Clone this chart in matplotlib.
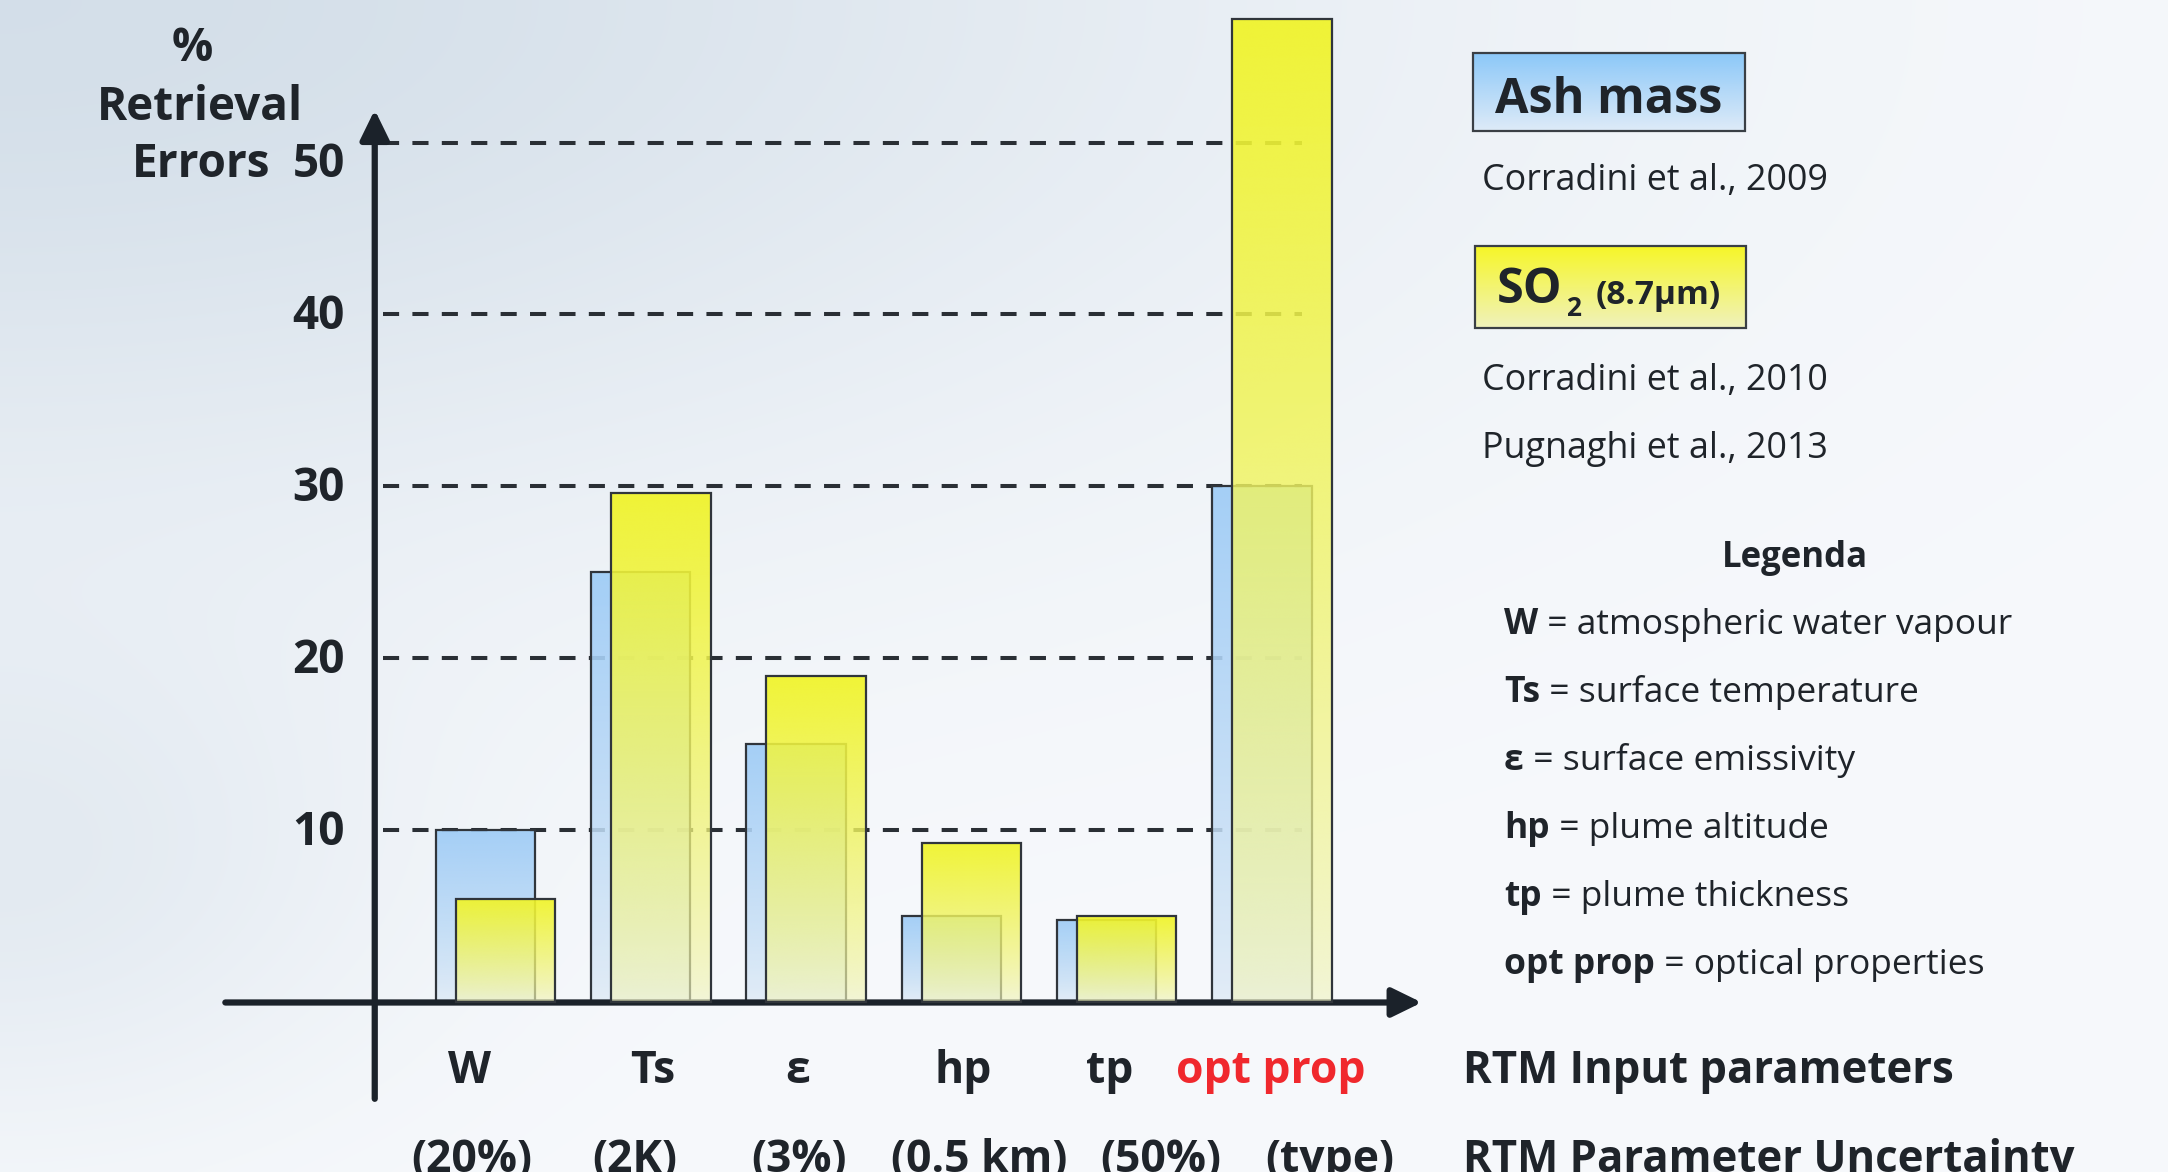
import numpy as np
import matplotlib
matplotlib.use('Agg')
import matplotlib.pyplot as plt
from matplotlib.patches import Rectangle

# ---------------- data ----------------
categories = ['W', 'Ts', 'ε', 'hp', 'tp', 'opt prop']
uncertainty = ['(20%)', '(2K)', '(3%)', '(0.5 km)', '(50%)', '(type)']
ash_mass = [10, 25, 15, 5, 4.8, 30]
so2 = [6, 29.6, 19, 9.3, 5, 57.2]
yticks = [10, 20, 30, 40, 50]
legend_keys = ['W', 'Ts', 'ε', 'hp', 'tp', 'opt prop']
legend_desc = ['atmospheric water vapour', 'surface temperature', 'surface emissivity',
               'plume altitude', 'plume thickness', 'optical properties']
refs_ash = ['Corradini et al., 2009']
refs_so2 = ['Corradini et al., 2010', 'Pugnaghi et al., 2013']

plt.rcParams['font.family'] = ['Open Sans', 'DejaVu Sans']
TXT = '#1f242a'
RED = '#f0282d'

W, H = 2168, 1172
fig = plt.figure(figsize=(W / 100, H / 100), dpi=100)

# ---------------- background axes (pixel coordinates) ----------------
bg = fig.add_axes([0, 0, 1, 1])
yy, xx = np.mgrid[0:1:300j, 0:1:560j]
d = 0.9 * np.exp(-((xx / 0.6) ** 2 + (yy / 0.45) ** 2)) \
    + 0.45 * np.exp(-(xx / 0.18) ** 2) * np.exp(-((yy - 0.75) / 0.22) ** 2)
d = np.clip(d, 0, 1)[..., None]
dark = np.array([208, 220, 231]) / 255
light = np.array([247, 249, 252]) / 255
bgimg = light * (1 - d) + dark * d
bg.imshow(bgimg, extent=(0, W, H, 0), origin='upper', aspect='auto',
          interpolation='bicubic', zorder=0)


def box(x0, y0, x1, y1, top, bottom):
    n = 128
    t = np.linspace(0, 1, n)[:, None]
    rgb = (np.array(top) + (np.array(bottom) - np.array(top)) * t) / 255
    bg.imshow(rgb.reshape(n, 1, 3), extent=(x0, x1, y1, y0), origin='upper',
              aspect='auto', interpolation='bicubic', zorder=1)
    bg.add_patch(Rectangle((x0, y0), x1 - x0, y1 - y0, fill=False,
                           edgecolor='#3a3f45', lw=1.6, zorder=2))


box(1473, 53, 1745, 131, (140, 200, 248), (222, 235, 248))
box(1475, 246, 1746, 328, (246, 246, 40), (240, 242, 188))
bg.text(1609, 113, 'Ash mass', ha='center', va='baseline', fontsize=35,
        weight='bold', color=TXT, zorder=3)
bg.text(1497, 303, 'SO', ha='left', va='baseline', fontsize=35,
        weight='bold', color=TXT, zorder=3)
bg.text(1566, 316, '2', ha='left', va='baseline', fontsize=19,
        weight='bold', color=TXT, zorder=3)
bg.text(1596, 304, '(8.7μm)', ha='left', va='baseline', fontsize=24,
        weight='bold', color=TXT, zorder=3)

bg.text(1482, 190, refs_ash[0], ha='left', va='baseline', fontsize=25.8, color=TXT)
for k, s in enumerate(refs_so2):
    bg.text(1482, 390 + 68 * k, s, ha='left', va='baseline', fontsize=25.8, color=TXT)

bg.text(1795, 567, 'Legenda', ha='center', va='baseline', fontsize=25,
        weight='bold', color=TXT)
renderer = fig.canvas.get_renderer()
for k, (key, desc) in enumerate(zip(legend_keys, legend_desc)):
    yb = 634 + 68 * k
    t1 = bg.text(1504, yb, key, ha='left', va='baseline', fontsize=25.5,
                 weight='bold', color=TXT)
    wpx = t1.get_window_extent(renderer=renderer).width
    bg.text(1504 + wpx, yb, ' = ' + desc, ha='left', va='baseline',
            fontsize=25.5, color=TXT)

# y axis title
bg.text(192, 61, '%', ha='center', va='baseline', fontsize=33, weight='bold', color=TXT)
bg.text(200, 120, 'Retrieval', ha='center', va='baseline', fontsize=33, weight='bold', color=TXT)
bg.text(270, 177, 'Errors', ha='right', va='baseline', fontsize=33, weight='bold', color=TXT)

# x axis titles
bg.text(1463, 1083, 'RTM Input parameters', ha='left', va='baseline',
        fontsize=31.5, weight='bold', color=TXT)
bg.text(1463, 1172, 'RTM Parameter Uncertainty', ha='left', va='baseline',
        fontsize=31.5, weight='bold', color=TXT)

bg.set_xlim(0, W)
bg.set_ylim(H, 0)
bg.axis('off')

# ---------------- main chart axes ----------------
ax = fig.add_axes([0, 0, 1, 1])
ax.patch.set_visible(False)
ax.axis('off')

x = np.arange(len(categories))
bw = 0.64
off = 0.13

for v in yticks:
    ax.plot([-0.66, 5.26], [v, v], color='#2a2f35', lw=2.9,
            dashes=(4.0, 3.3), zorder=1, solid_capstyle='butt')


def grad_fill(patch, top, bottom, a_top, a_bot, z, gamma=1.0):
    x0, y0 = patch.get_x(), patch.get_y()
    w, h = patch.get_width(), patch.get_height()
    n = 256
    t = (np.linspace(0, 1, n) ** gamma)[:, None]  # 0 bottom -> 1 top
    rgb = (np.array(bottom) + (np.array(top) - np.array(bottom)) * t) / 255
    a = a_bot + (a_top - a_bot) * t
    img = np.concatenate([rgb, a], axis=1).reshape(n, 1, 4)
    im = ax.imshow(img, extent=(x0, x0 + w, y0, y0 + h), origin='lower',
                   aspect='auto', interpolation='bicubic', zorder=z)
    im.set_clip_path(patch)


blue = ax.bar(x, ash_mass, width=bw, facecolor='none', edgecolor='#30353b',
              lw=1.6, zorder=2.5)
for p in blue:
    grad_fill(p, (158, 204, 246), (224, 235, 246), 0.92, 0.82, 2, gamma=0.8)

# axis arrows
ax.annotate('', xy=(-0.712, 51.9), xytext=(-0.712, -5.6),
            arrowprops=dict(arrowstyle='-|>,head_length=0.45,head_width=0.22',
                            lw=4.5, color='#1b222a', shrinkA=0, shrinkB=0,
                            mutation_scale=40), zorder=3)
ax.annotate('', xy=(6.03, 0), xytext=(-1.674, 0),
            arrowprops=dict(arrowstyle='-|>,head_length=0.45,head_width=0.22',
                            lw=4.5, color='#1b222a', shrinkA=0, shrinkB=0,
                            mutation_scale=40), zorder=3)

yellow = ax.bar(x + off, so2, width=bw, facecolor='none', edgecolor='#30353b',
                lw=1.6, zorder=4.5)
for p in yellow:
    grad_fill(p, (240, 244, 40), (242, 244, 196), 0.93, 0.62, 4, gamma=0.7)

# tick labels
for v in yticks:
    dy = 2.0 if v == yticks[-1] else 0.85
    ax.text(-0.903, v - dy, str(v), ha='right', va='baseline', fontsize=33,
            weight='bold', color=TXT)

# category labels
cat_x = [-0.1, 1.08, 2.01, 3.08, 4.02, 5.06]
unc_x = [-0.09, 0.96, 2.02, 3.18, 4.35, 5.44]
for i, (c, u) in enumerate(zip(categories, uncertainty)):
    col = RED if i == len(categories) - 1 else TXT
    ax.text(cat_x[i], -4.68, c, ha='center', va='baseline', fontsize=32,
            weight='bold', color=col)
    ax.text(unc_x[i], -9.85, u, ha='center', va='baseline', fontsize=32,
            weight='bold', color=TXT)

ax.set_xlim(-3.125, 10.835)
ax.set_ylim(-9.855, 58.285)

fig.savefig('out.png', dpi=100)
